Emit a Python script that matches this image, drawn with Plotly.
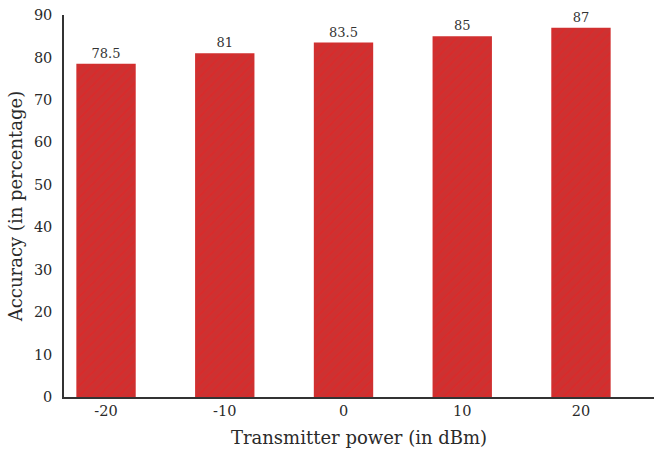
import plotly.graph_objects as go

categories = ["-20", "-10", "0", "10", "20"]
accuracy = [78.5, 81, 83.5, 85, 87]
labels = ["78.5", "81", "83.5", "85", "87"]
y_ticks = [0, 10, 20, 30, 40, 50, 60, 70, 80, 90]

font_family = "DejaVu Serif"

fig = go.Figure()
fig.add_trace(go.Bar(
    x=list(range(len(categories))),
    y=accuracy,
    width=0.5,
    text=labels,
    textposition="outside",
    cliponaxis=False,
    textfont=dict(family=font_family, size=13, color="#333333"),
    marker=dict(
        color="#cf3131",
        line=dict(width=0),
        pattern=dict(shape="/", fgcolor="#e82222", bgcolor="#cc3232", size=7, solidity=0.3),
    ),
))

fig.update_layout(
    width=654, height=451,
    margin=dict(l=64, r=0, t=15, b=54),
    paper_bgcolor="white", plot_bgcolor="white",
    font=dict(family=font_family, color="#2a2a2a", size=14),
    showlegend=False,
    bargap=0.5,
)
fig.update_xaxes(
    tickmode="array",
    tickvals=list(range(len(categories))),
    ticktext=categories,
    range=[-0.354, 4.615],
    showgrid=False, zeroline=False,
    showline=True, linecolor="#333333", linewidth=1.5,
    ticks="", ticklen=0,
    tickfont=dict(size=14.5),
    automargin=False,
    title=dict(text="Transmitter power (in dBm)", font=dict(size=18), standoff=13),
)
fig.update_yaxes(
    range=[0, 90],
    tickmode="array",
    tickvals=y_ticks,
    showgrid=False, zeroline=False,
    showline=True, linecolor="#333333", linewidth=1.5,
    ticks="outside", ticklen=7, tickcolor="rgba(0,0,0,0)",
    tickfont=dict(size=14.5),
    automargin=False,
    title=dict(text="Accuracy (in percentage)", font=dict(size=18), standoff=7),
)

fig.write_html(
    "out.html",
    config={"displayModeBar": False},
    post_script="document.body.style.margin='0';document.body.style.overflow='hidden';",
)
